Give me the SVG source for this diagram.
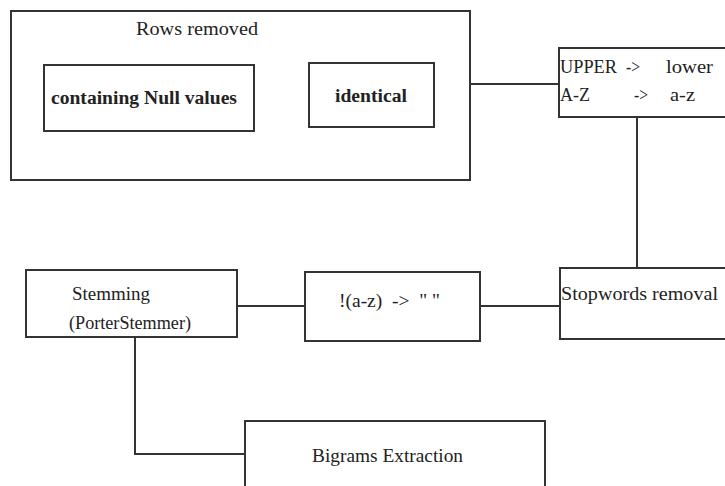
<svg xmlns="http://www.w3.org/2000/svg" width="725" height="486" viewBox="0 0 725 486">
<style>
.box{fill:#fff;stroke:#333;stroke-width:2}
.ln{fill:none;stroke:#333;stroke-width:2}
.t{font-family:'Liberation Serif','Times New Roman','DejaVu Serif',serif;font-size:18.5px;fill:#222}
.b{font-weight:bold}
</style>
<rect width="725" height="486" fill="#fff"/>
<g id="connectors">
<path class="ln" d="M470 84H559"/>
<path class="ln" d="M637 117V268"/>
<path class="ln" d="M560 306H480"/>
<path class="ln" d="M305 306H237"/>
<path class="ln" d="M135 337V454H245"/>
</g>
<g id="rows-removed">
<rect class="box" x="11" y="11" width="459" height="169"/>
<text class="t" x="136" y="35" textLength="122" lengthAdjust="spacingAndGlyphs">Rows removed</text>
</g>
<g id="null-values">
<rect class="box" x="44" y="65" width="210" height="66"/>
<text class="t b" x="51" y="104" textLength="186" lengthAdjust="spacingAndGlyphs">containing Null values</text>
</g>
<g id="identical">
<rect class="box" x="309" y="63" width="125" height="64"/>
<text class="t b" x="335" y="102" textLength="72" lengthAdjust="spacingAndGlyphs">identical</text>
</g>
<g id="lowercase">
<rect class="box" x="559" y="48" width="175" height="69"/>
<text class="t" x="560" y="73" textLength="57" lengthAdjust="spacingAndGlyphs">UPPER</text>
<text class="t" x="626" y="73" textLength="14" lengthAdjust="spacingAndGlyphs">-&gt;</text>
<text class="t" x="666" y="73" textLength="47" lengthAdjust="spacingAndGlyphs">lower</text>
<text class="t" x="560" y="101" textLength="30" lengthAdjust="spacingAndGlyphs">A-Z</text>
<text class="t" x="634" y="101" textLength="14" lengthAdjust="spacingAndGlyphs">-&gt;</text>
<text class="t" x="670" y="101" textLength="25" lengthAdjust="spacingAndGlyphs">a-z</text>
</g>
<g id="stopwords">
<rect class="box" x="560" y="268" width="175" height="71"/>
<text class="t" x="561" y="300" textLength="157" lengthAdjust="spacingAndGlyphs">Stopwords removal</text>
</g>
<g id="nonalpha">
<rect class="box" x="305" y="272" width="175" height="69"/>
<text class="t" x="339" y="307" textLength="101" lengthAdjust="spacingAndGlyphs" xml:space="preserve">!(a-z)  -&gt;  " "</text>
</g>
<g id="stemming">
<rect class="box" x="26" y="270" width="211" height="67"/>
<text class="t" x="72" y="300" textLength="78" lengthAdjust="spacingAndGlyphs">Stemming</text>
<text class="t" x="69" y="329" textLength="122" lengthAdjust="spacingAndGlyphs">(PorterStemmer)</text>
</g>
<g id="bigrams">
<rect class="box" x="245" y="421" width="300" height="80"/>
<text class="t" x="312" y="462" textLength="151" lengthAdjust="spacingAndGlyphs">Bigrams Extraction</text>
</g>
</svg>
